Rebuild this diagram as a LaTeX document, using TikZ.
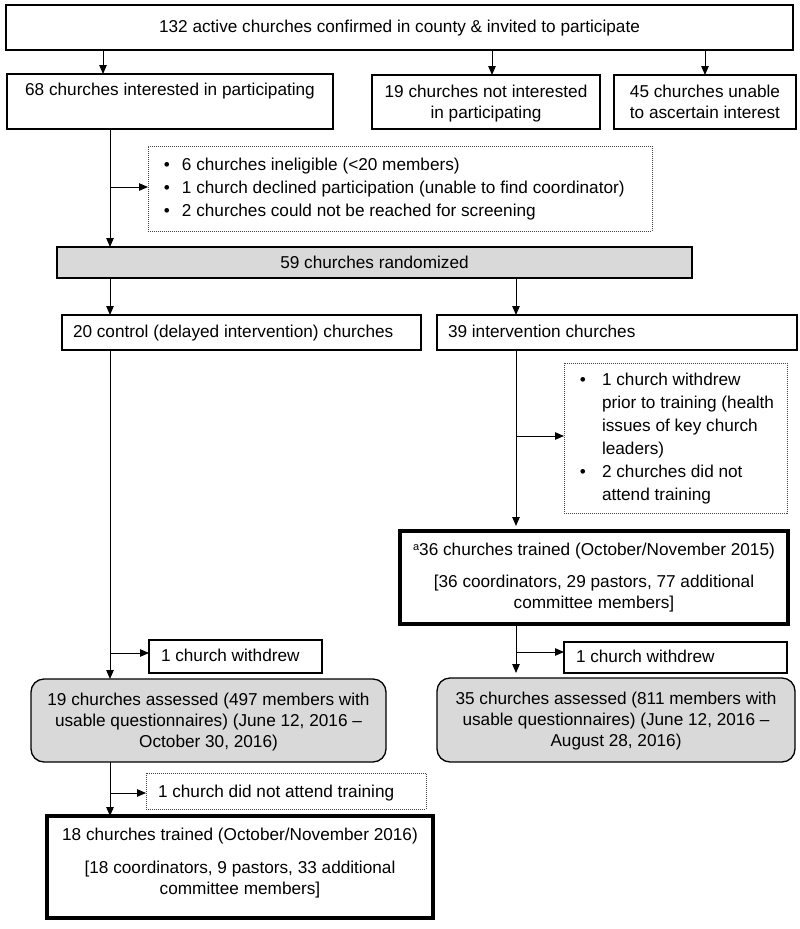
\documentclass[tikz,border=0pt]{standalone}
\usepackage{fontspec}
\setmainfont{Liberation Sans}
\usetikzlibrary{arrows.meta}
\definecolor{boxgray}{RGB}{217,217,217}
\newcommand\bxc[4]{\parbox[c][#2][t]{#1}{\centering\vspace*{#3}#4\par}}
\newcommand\bxl[5]{\parbox[c][#2][t]{#1}{\raggedright\leftskip=#4\relax\vspace*{#3}#5\par}}
\newcommand\supa{\raisebox{5pt}{\fontsize{11}{11}\selectfont a}}
\begin{document}
\begin{tikzpicture}[x=1pt,y=-1pt,
  every node/.style={inner sep=0pt, outer sep=0pt, font=\fontsize{17.2}{21}\selectfont},
  box/.style={draw, line width=1.3pt},
  thickbox/.style={draw, line width=3.3pt},
  dotbox/.style={draw=black!75, line width=1pt, dash pattern=on 1pt off 1pt},
  graybox/.style={draw, line width=1.3pt, fill=boxgray},
  roundbox/.style={graybox, rounded corners=13pt},
  arr/.style={line width=1pt, -{Triangle[length=9pt,width=7.5pt]}}]

\useasboundingbox (0,0) rectangle (800,929);

% boxes
\node[box] (top) at (399.5,27.5) {\bxc{787pt}{45pt}{13pt}{\strut 132 active churches confirmed in county \& invited to participate}};
\node[box] (b68) at (170,101.5) {\bxc{326pt}{55pt}{6.5pt}{\strut 68 churches interested in participating}};
\node[box] (b19) at (486,102) {\bxc{228pt}{54pt}{8pt}{\strut 19 churches not interested\\\strut in participating}};
\node[box] (b45) at (705,102) {\bxc{182pt}{54pt}{8pt}{\strut 45 churches unable\\\strut to ascertain interest}};

\node[dotbox] (d1) at (400,188.5) {\bxl{504pt}{85pt}{8.5pt}{34pt}{\fontsize{17.2}{23}\selectfont
  \strut\llap{\textbullet\hspace{12pt}}\mbox{6 churches ineligible (<20 members)}\\
  \strut\llap{\textbullet\hspace{12pt}}\mbox{1 church declined participation (unable to find coordinator)}\\
  \strut\llap{\textbullet\hspace{12pt}}\mbox{2 churches could not be reached for screening}}};

\node[graybox] (rand) at (374.5,262.5) {\bxc{635pt}{31pt}{6.8pt}{\strut 59 churches randomized}};

\node[box] (ctrl) at (241.5,332.5) {\bxl{359pt}{35pt}{7.8pt}{11pt}{\strut 20 control (delayed intervention) churches}};
\node[box] (intv) at (617,332.5) {\bxl{360pt}{35pt}{7.8pt}{11pt}{\strut 39 intervention churches}};

\node[dotbox] (d2) at (675.5,438) {\bxl{223pt}{150pt}{6.4pt}{38pt}{\fontsize{17.2}{23}\selectfont
  \strut\llap{\textbullet\hspace{16pt}}\mbox{1 church withdrew}\\
  \strut\mbox{prior to training (health}\\
  \strut\mbox{issues of key church}\\
  \strut\mbox{leaders)}\\
  \strut\llap{\textbullet\hspace{16pt}}\mbox{2 churches did not}\\
  \strut\mbox{attend training}}};

\node[thickbox] (b36) at (594,577.5) {\bxc{388pt}{93pt}{9.8pt}{\strut\supa 36 churches trained (October/November 2015)\\[11pt]\strut[36 coordinators, 29 pastors, 77 additional\\\strut committee members]}};

\node[box] (cw1) at (235.5,656.5) {\bxl{173pt}{33pt}{6.8pt}{12pt}{\strut 1 church withdrew}};
\node[box] (cw2) at (675.5,657.5) {\bxl{223pt}{31pt}{5.8pt}{12pt}{\strut 1 church withdrew}};

\node[roundbox] (a19) at (208.5,720.5) {\bxc{355pt}{83pt}{11.8pt}{\strut 19 churches assessed (497 members with\\\strut usable questionnaires) (June 12, 2016 --\\\strut October 30, 2016)}};
\node[roundbox] (a35) at (616,720) {\bxc{358pt}{84pt}{11.8pt}{\strut 35 churches assessed (811 members with\\\strut usable questionnaires) (June 12, 2016 --\\\strut August 28, 2016)}};

\node[dotbox] (dna) at (286,791) {\bxl{280pt}{36pt}{9.3pt}{12pt}{\strut 1 church did not attend training}};

\node[thickbox] (b18) at (240,867) {\bxc{386pt}{102pt}{9.8pt}{\strut 18 churches trained (October/November 2016)\\[12pt]\strut[18 coordinators, 9 pastors, 33 additional\\\strut committee members]}};

% guide coordinates
\coordinate (xa) at (103,0);
\coordinate (xb) at (492,0);
\coordinate (xc) at (705,0);
\coordinate (xl) at (110,0);
\coordinate (xr) at (516,0);
\coordinate (ya) at (0,187);
\coordinate (yb) at (0,436);
\coordinate (yc) at (0,653);
\coordinate (yd) at (0,652);
\coordinate (ye) at (0,793);

% connectors
\draw[arr] (xa |- top.south) -- (xa |- b68.north);
\draw[arr] (xb |- top.south) -- (xb |- b19.north);
\draw[arr] (xc |- top.south) -- (xc |- b45.north);
\draw[arr] (xl |- b68.south) -- (xl |- rand.north);
\draw[arr] (xl |- ya) -- (d1.west |- ya);
\draw[arr] (xl |- rand.south) -- (xl |- ctrl.north);
\draw[arr] (xr |- rand.south) -- (xr |- intv.north);
\draw[arr] (xl |- ctrl.south) -- (xl |- a19.north);
\draw[arr] (xl |- yc) -- (cw1.west |- yc);
\draw[arr, shorten >=5pt] (xr |- intv.south) -- (xr |- b36.north);
\draw[arr] (xr |- yb) -- (d2.west |- yb);
\draw[arr, shorten >=5pt] (xr |- b36.south) -- (xr |- a35.north);
\draw[arr] (xr |- yd) -- (cw2.west |- yd);
\draw[arr] (xl |- a19.south) -- (xl |- b18.north);
\draw[arr] (xl |- ye) -- (dna.west |- ye);
\end{tikzpicture}
\end{document}
